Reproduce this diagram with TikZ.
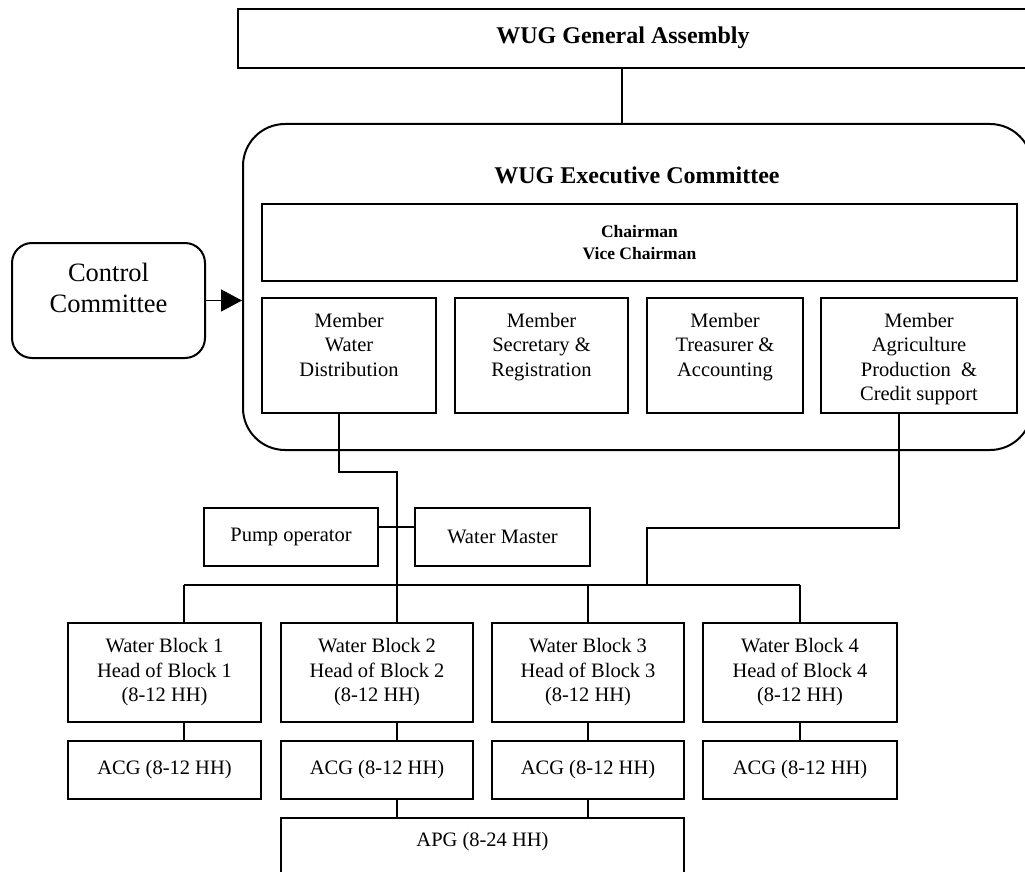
\documentclass[tikz,border=0pt]{standalone}
\usepackage{fontspec}
\setmainfont{Liberation Serif}
\usetikzlibrary{arrows.meta}
\begin{document}
\begin{tikzpicture}[x=1pt,y=-1pt,
  box/.style={draw, line width=2pt, inner sep=0pt, align=center},
  conn/.style={line width=1.5pt},
  title/.style={font=\bfseries\fontsize{24}{28}\selectfont, inner sep=0pt},
  body/.style={font=\fontsize{20.5}{24.5}\selectfont, align=center, inner sep=0pt},
  ctext/.style={font=\fontsize{26.5}{31}\selectfont, align=center, inner sep=0pt},
  member/.style={box, minimum height=115pt},
  wblock/.style={box, body, minimum height=99pt},
  acg/.style={box, body, minimum height=58pt},
  small/.style={box, body, minimum width=174pt, minimum height=58pt}]
\useasboundingbox (0,0) rectangle (1025,872);
\fill[white] (0,0) rectangle (1025,872);

% General assembly
\node[box, minimum width=802pt, minimum height=59pt] (ga) at (639,38.5) {};
\node[title] (gat) at (623,38) {WUG General Assembly};

% Executive committee frame and its members
\node[draw, line width=2pt, rounded corners=42pt, minimum width=789pt,
      minimum height=326pt, inner sep=0pt] (ex) at (637.5,287) {};
\node[title] (ext) at (637,175) {WUG Executive Committee};
\node[box, minimum width=755pt, minimum height=77pt,
      font=\bfseries\fontsize{17.5}{22}\selectfont] (ch) at (639.5,242.5) {Chairman\\Vice Chairman};

\node[member, minimum width=174pt] (m1) at (349,355.5) {};
\node[member, minimum width=173pt] (m2) at (541.5,355.5) {};
\node[member, minimum width=156pt] (m3) at (725,355.5) {};
\node[member, minimum width=196pt] (m4) at (919,355.5) {};
\node[body, anchor=north] (m1t) at ([yshift=-16pt]m1.north) {Member\\Water\\Distribution};
\node[body, anchor=north] (m2t) at ([yshift=-16pt]m2.north) {Member\\Secretary \&\\Registration};
\node[body, anchor=north] (m3t) at ([yshift=-16pt]m3.north) {Member\\Treasurer \&\\Accounting};
\node[body, anchor=north] (m4t) at ([yshift=-16pt]m4.north) {Member\\Agriculture\\Production~~\&\\Credit support};

% Control committee
\node[box, rounded corners=20pt, minimum width=193pt, minimum height=115pt] (cc) at (108.5,300.5) {};
\node[ctext, anchor=north] (cct) at ([yshift=-21pt]cc.north) {Control\\Committee};

% Pump operator and water master
\node[small] (po) at (291,537) {Pump operator};
\node[small, minimum width=175pt] (wm) at (502.5,537) {Water Master};

% Water blocks
\node[wblock, minimum width=193pt] (b1) at (164.5,672.5) {Water Block 1\\Head of Block 1\\(8-12 HH)};
\node[wblock, minimum width=192pt] (b2) at (377,672.5) {Water Block 2\\Head of Block 2\\(8-12 HH)};
\node[wblock, minimum width=192pt] (b3) at (588,672.5) {Water Block 3\\Head of Block 3\\(8-12 HH)};
\node[wblock, minimum width=194pt] (b4) at (800,672.5) {Water Block 4\\Head of Block 4\\(8-12 HH)};

\node[acg, minimum width=193pt] (a1) at (164.5,770) {ACG (8-12 HH)};
\node[acg, minimum width=192pt] (a2) at (377,770) {ACG (8-12 HH)};
\node[acg, minimum width=192pt] (a3) at (588,770) {ACG (8-12 HH)};
\node[acg, minimum width=194pt] (a4) at (800,770) {ACG (8-12 HH)};

\node[box, minimum width=403pt, minimum height=82pt] (apg) at (482.5,859) {};
\node[body] (apgt) at ([yshift=-25pt]apg.north) {APG (8-24 HH)};

% Connectors
\draw[conn] ([xshift=-17pt]ga.south) -- ([xshift=-17pt]ga.south |- ex.north);
\draw[conn, -{Triangle[length=21pt,width=22pt]}] (cc.east) -- (cc.east -| ex.west);

\coordinate (j1) at (397,472);
\coordinate (j2) at (647,528);
\coordinate (busL) at (184,585);
\coordinate (busR) at (800,585);

\draw[conn] ([xshift=-10pt]m1.south) |- (j1) -- (j1 |- b2.north);
\draw[conn] ([yshift=10pt]po.east) -- ([yshift=10pt]wm.west);
\draw[conn] ([xshift=-20pt]m4.south) |- (j2) -- (j2 |- busL);

\draw[conn] (busL) -- (busR);
\draw[conn] (busL) -- (busL |- b1.north);
\draw[conn] (b3.north |- busL) -- (b3.north);
\draw[conn] (busR) -- (b4.north);

\draw[conn] (busL |- b1.south) -- (busL |- a1.north);
\draw[conn] (j1 |- b2.south) -- (j1 |- a2.north);
\draw[conn] (b3.south) -- (a3.north);
\draw[conn] (b4.south) -- (a4.north);

\draw[conn] (j1 |- a2.south) -- (j1 |- apg.north);
\draw[conn] (a3.south) -- (a3.south |- apg.north);
\end{tikzpicture}
\end{document}
